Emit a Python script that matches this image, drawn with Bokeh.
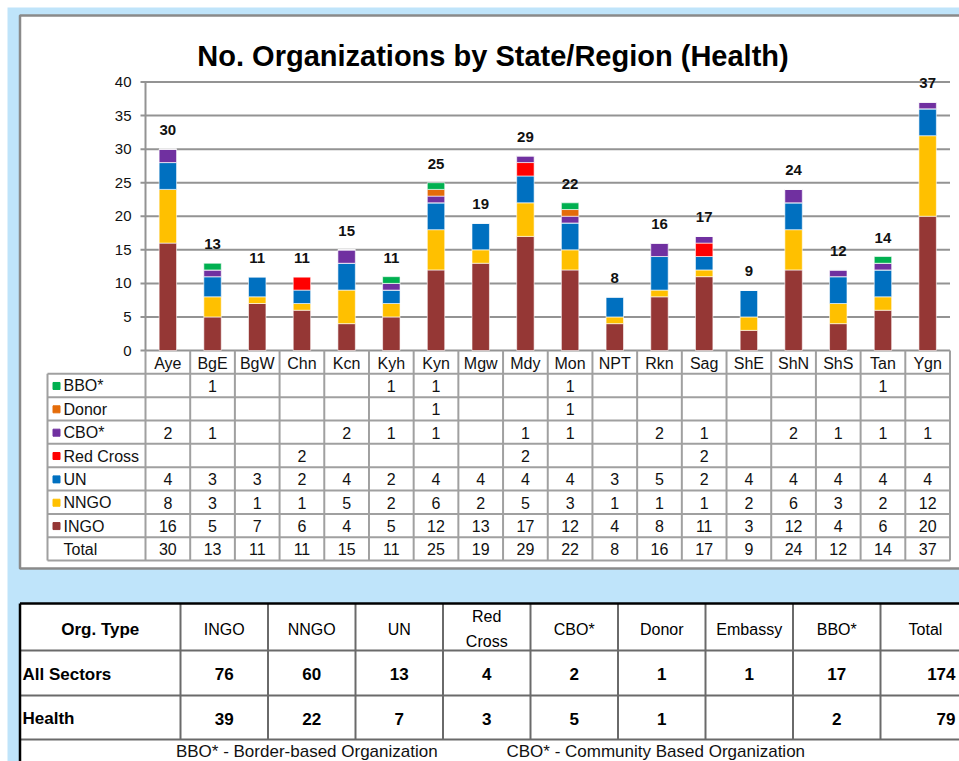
from bokeh.plotting import figure
from bokeh.models import Range1d, ColumnDataSource
from bokeh.core.properties import value
from bokeh.embed import file_html
from bokeh.resources import INLINE

# ---------------- data ----------------
regions = ["Aye", "BgE", "BgW", "Chn", "Kcn", "Kyh", "Kyn", "Mgw", "Mdy",
           "Mon", "NPT", "Rkn", "Sag", "ShE", "ShN", "ShS", "Tan", "Ygn"]
ingo      = [16, 5, 7, 6, 4, 5, 12, 13, 17, 12, 4, 8, 11, 3, 12, 4, 6, 20]
nngo      = [8, 3, 1, 1, 5, 2, 6, 2, 5, 3, 1, 1, 1, 2, 6, 3, 2, 12]
un        = [4, 3, 3, 2, 4, 2, 4, 4, 4, 4, 3, 5, 2, 4, 4, 4, 4, 4]
red_cross = [0, 0, 0, 2, 0, 0, 0, 0, 2, 0, 0, 0, 2, 0, 0, 0, 0, 0]
cbo       = [2, 1, 0, 0, 2, 1, 1, 0, 1, 1, 0, 2, 1, 0, 2, 1, 1, 1]
donor     = [0, 0, 0, 0, 0, 0, 1, 0, 0, 1, 0, 0, 0, 0, 0, 0, 0, 0]
bbo       = [0, 1, 0, 0, 0, 1, 1, 0, 0, 1, 0, 0, 0, 0, 0, 0, 1, 0]
totals    = [30, 13, 11, 11, 15, 11, 25, 19, 29, 22, 8, 16, 17, 9, 24, 12, 14, 37]
y_ticks = [0, 5, 10, 15, 20, 25, 30, 35, 40]

series_names = ["INGO", "NNGO", "UN", "Red Cross", "CBO*", "Donor", "BBO*"]
series_values = [ingo, nngo, un, red_cross, cbo, donor, bbo]
series_colors = ["#953735", "#FFC000", "#0070C0", "#FF0000", "#7030A0", "#E46C0A", "#00B050"]

title_text = "No. Organizations by State/Region (Health)"

summary_header = ["Org. Type", "INGO", "NNGO", "UN", "Red\nCross", "CBO*",
                  "Donor", "Embassy", "BBO*", "Total"]
summary_rows = ["All Sectors", "Health"]
all_sectors = [76, 60, 13, 4, 2, 1, 1, 17, 174]
health      = [39, 22, 7, 3, 5, 1, None, 2, 79]
footnotes = ["BBO*  -  Border-based Organization", "CBO*  -  Community Based Organization"]

# ---------------- layout (page pixels) ----------------
W, H, OFF = 959, 761, 0
PLOT_L, PLOT_R = 145.0, 949.5
Y0, YTOP = 350.0, 81.5
n = len(regions)
cat_w = (PLOT_R - PLOT_L) / n
ppu = (Y0 - YTOP) / 40.0

BLUE = "#BFE4FA"
FONT = value("Liberation Sans")

p = figure(width=W, height=H, output_backend="svg", toolbar_location=None,
           x_range=Range1d((OFF - PLOT_L) / cat_w, (OFF + W - PLOT_L) / cat_w),
           y_range=Range1d((Y0 - (OFF + H)) / ppu, (Y0 - OFF) / ppu),
           x_axis_location=None, y_axis_location=None, min_border=0)
p.extra_x_ranges = {"px": Range1d(OFF, OFF + W)}
p.extra_y_ranges = {"px": Range1d(OFF + H, OFF)}
p.grid.visible = False
p.outline_line_color = None
p.background_fill_color = "white"
p.border_fill_color = "white"

PX = dict(x_range_name="px", y_range_name="px")

# light-blue page area
p.quad(left=[7], right=[1000], top=[7], bottom=[800], fill_color=BLUE,
       line_color=None, **PX)
# chart box
p.quad(left=[19.5], right=[1000], top=[15], bottom=[568], fill_color="white",
       line_color="#8A8A8A", line_width=2.5, **PX)
# summary table box
p.quad(left=[19.5], right=[1000], top=[603], bottom=[800], fill_color="white",
       line_color=None, **PX)

# title
p.text(x=[492.5], y=[55], text=[title_text], text_font=FONT, text_font_size="29px",
       text_font_style="bold", text_align="center", text_baseline="alphabetic",
       text_color="black", **PX)

# gridlines + tick marks
p.segment(x0=[140] * len(y_ticks), x1=[PLOT_R] * len(y_ticks), y0=y_ticks, y1=y_ticks,
          line_color="#939393", line_width=2, x_range_name="px")
p.segment(x0=[0], x1=[0], y0=[0], y1=[y_ticks[-1]], line_color="#939393", line_width=2)
p.text(x=[131] * len(y_ticks), y=y_ticks, text=[str(t) for t in y_ticks],
       text_font=FONT, text_font_size="15px", text_align="right",
       text_baseline="middle", text_color="#111111", x_range_name="px")

# stacked bars
src = {"x": [i + 0.5 for i in range(n)]}
for name, vals in zip(series_names, series_values):
    src[name] = vals
source = ColumnDataSource(src)
p.vbar_stack(series_names, x="x", width=0.39, color=series_colors, source=source,
             line_color="white", line_width=0.6)

# total labels above bars
p.text(x=[i + 0.5 for i in range(n)], y=[t + 19 / ppu for t in totals],
       text=[str(t) for t in totals], text_font=FONT, text_font_size="15px",
       text_font_style="bold", text_align="center", text_baseline="middle",
       text_color="#111111")

# ---------------- data table under chart ----------------
ROW0, ROW_H = 373.3, 23.35
table_rows = list(zip(series_names, series_values, series_colors))[::-1]
n_rows = len(table_rows) + 1
T_BOTTOM = ROW0 + ROW_H * n_rows
LINE = "#A0A0A0"

# vertical lines
p.segment(x0=list(range(n + 1)), x1=list(range(n + 1)), y0=[Y0] * (n + 1),
          y1=[T_BOTTOM] * (n + 1), line_color=LINE, line_width=2, y_range_name="px")
p.segment(x0=[47], x1=[47], y0=[ROW0], y1=[T_BOTTOM], line_color=LINE, line_width=2, **PX)
# horizontal lines
hy = [ROW0 + ROW_H * k for k in range(n_rows + 1)]
p.segment(x0=[47] * len(hy), x1=[PLOT_R] * len(hy), y0=hy, y1=hy,
          line_color=LINE, line_width=2, **PX)

# header (category labels)
p.text(x=[i + 0.5 for i in range(n)], y=[(Y0 + ROW0) / 2 + 1] * n, text=regions,
       text_font=FONT, text_font_size="16px", text_align="center",
       text_baseline="middle", text_color="#111111", y_range_name="px")

row_centers = [ROW0 + ROW_H * (k + 0.5) + 0.5 for k in range(n_rows)]
# legend keys
p.scatter(x=[56] * len(table_rows), y=row_centers[:len(table_rows)], marker="square",
          size=7, color=[c for _, _, c in table_rows], **PX)
p.text(x=[63] * n_rows, y=row_centers, text=[nm for nm, _, _ in table_rows] + ["Total"],
       text_font=FONT, text_font_size="16px", text_align="left",
       text_baseline="middle", text_color="#111111", **PX)

cx, cy, ct = [], [], []
all_rows = [vals for _, vals, _ in table_rows] + [totals]
for r, vals in enumerate(all_rows):
    for i, v in enumerate(vals):
        if v:
            cx.append(i + 0.5)
            cy.append(row_centers[r])
            ct.append(str(v))
p.text(x=cx, y=cy, text=ct, text_font=FONT, text_font_size="16px", text_align="center",
       text_baseline="middle", text_color="#111111", y_range_name="px")

# ---------------- summary table ----------------
col_edges = [19.5] + [180 + 87.5 * k for k in range(len(summary_header))]
row_edges = [603, 650, 695, 739]
INNER = "#6A6A6A"
p.segment(x0=[19.5] * 3, x1=[1000] * 3, y0=row_edges[1:], y1=row_edges[1:],
          line_color=INNER, line_width=2, **PX)
p.segment(x0=col_edges[1:-1], x1=col_edges[1:-1], y0=[603] * (len(col_edges) - 2),
          y1=[739] * (len(col_edges) - 2), line_color=INNER, line_width=2, **PX)
p.segment(x0=[19.5, 19.5], x1=[1000, 19.5], y0=[603, 603], y1=[603, 800],
          line_color="black", line_width=2.5, **PX)

col_centers = [(a + b) / 2 for a, b in zip(col_edges[:-1], col_edges[1:])]
head_y = (row_edges[0] + row_edges[1]) / 2 + 2
p.text(x=[col_centers[0]], y=[head_y], text=[summary_header[0]], text_font=FONT,
       text_font_size="17px", text_font_style="bold", text_align="center",
       text_baseline="middle", text_color="black", **PX)
p.text(x=col_centers[1:-1] + [925], y=[head_y] * (len(summary_header) - 1),
       text=summary_header[1:], text_font=FONT, text_font_size="16px",
       text_align="center", text_baseline="middle", text_color="black",
       text_line_height=1.45, **PX)

for r, (label, vals) in enumerate(zip(summary_rows, [all_sectors, health])):
    yc = (row_edges[r + 1] + row_edges[r + 2]) / 2 + 1
    p.text(x=[22], y=[yc], text=[label], text_font=FONT, text_font_size="17px",
           text_font_style="bold", text_align="left", text_baseline="middle",
           text_color="black", **PX)
    xs, ts = [], []
    for k, v in enumerate(vals[:-1]):
        if v is not None:
            xs.append(col_centers[k + 1])
            ts.append(str(v))
    p.text(x=xs, y=[yc] * len(xs), text=ts, text_font=FONT, text_font_size="17px",
           text_font_style="bold", text_align="center", text_baseline="middle",
           text_color="black", **PX)
    p.text(x=[955], y=[yc], text=[str(vals[-1])], text_font=FONT, text_font_size="17px",
           text_font_style="bold", text_align="right", text_baseline="middle",
           text_color="black", **PX)

p.text(x=[311, 660], y=[751, 751], text=footnotes, text_font=FONT,
       text_font_size="17px", text_align="center", text_baseline="middle",
       text_color="#111111", **PX)

open("out.html", "w").write(file_html(p, INLINE))
